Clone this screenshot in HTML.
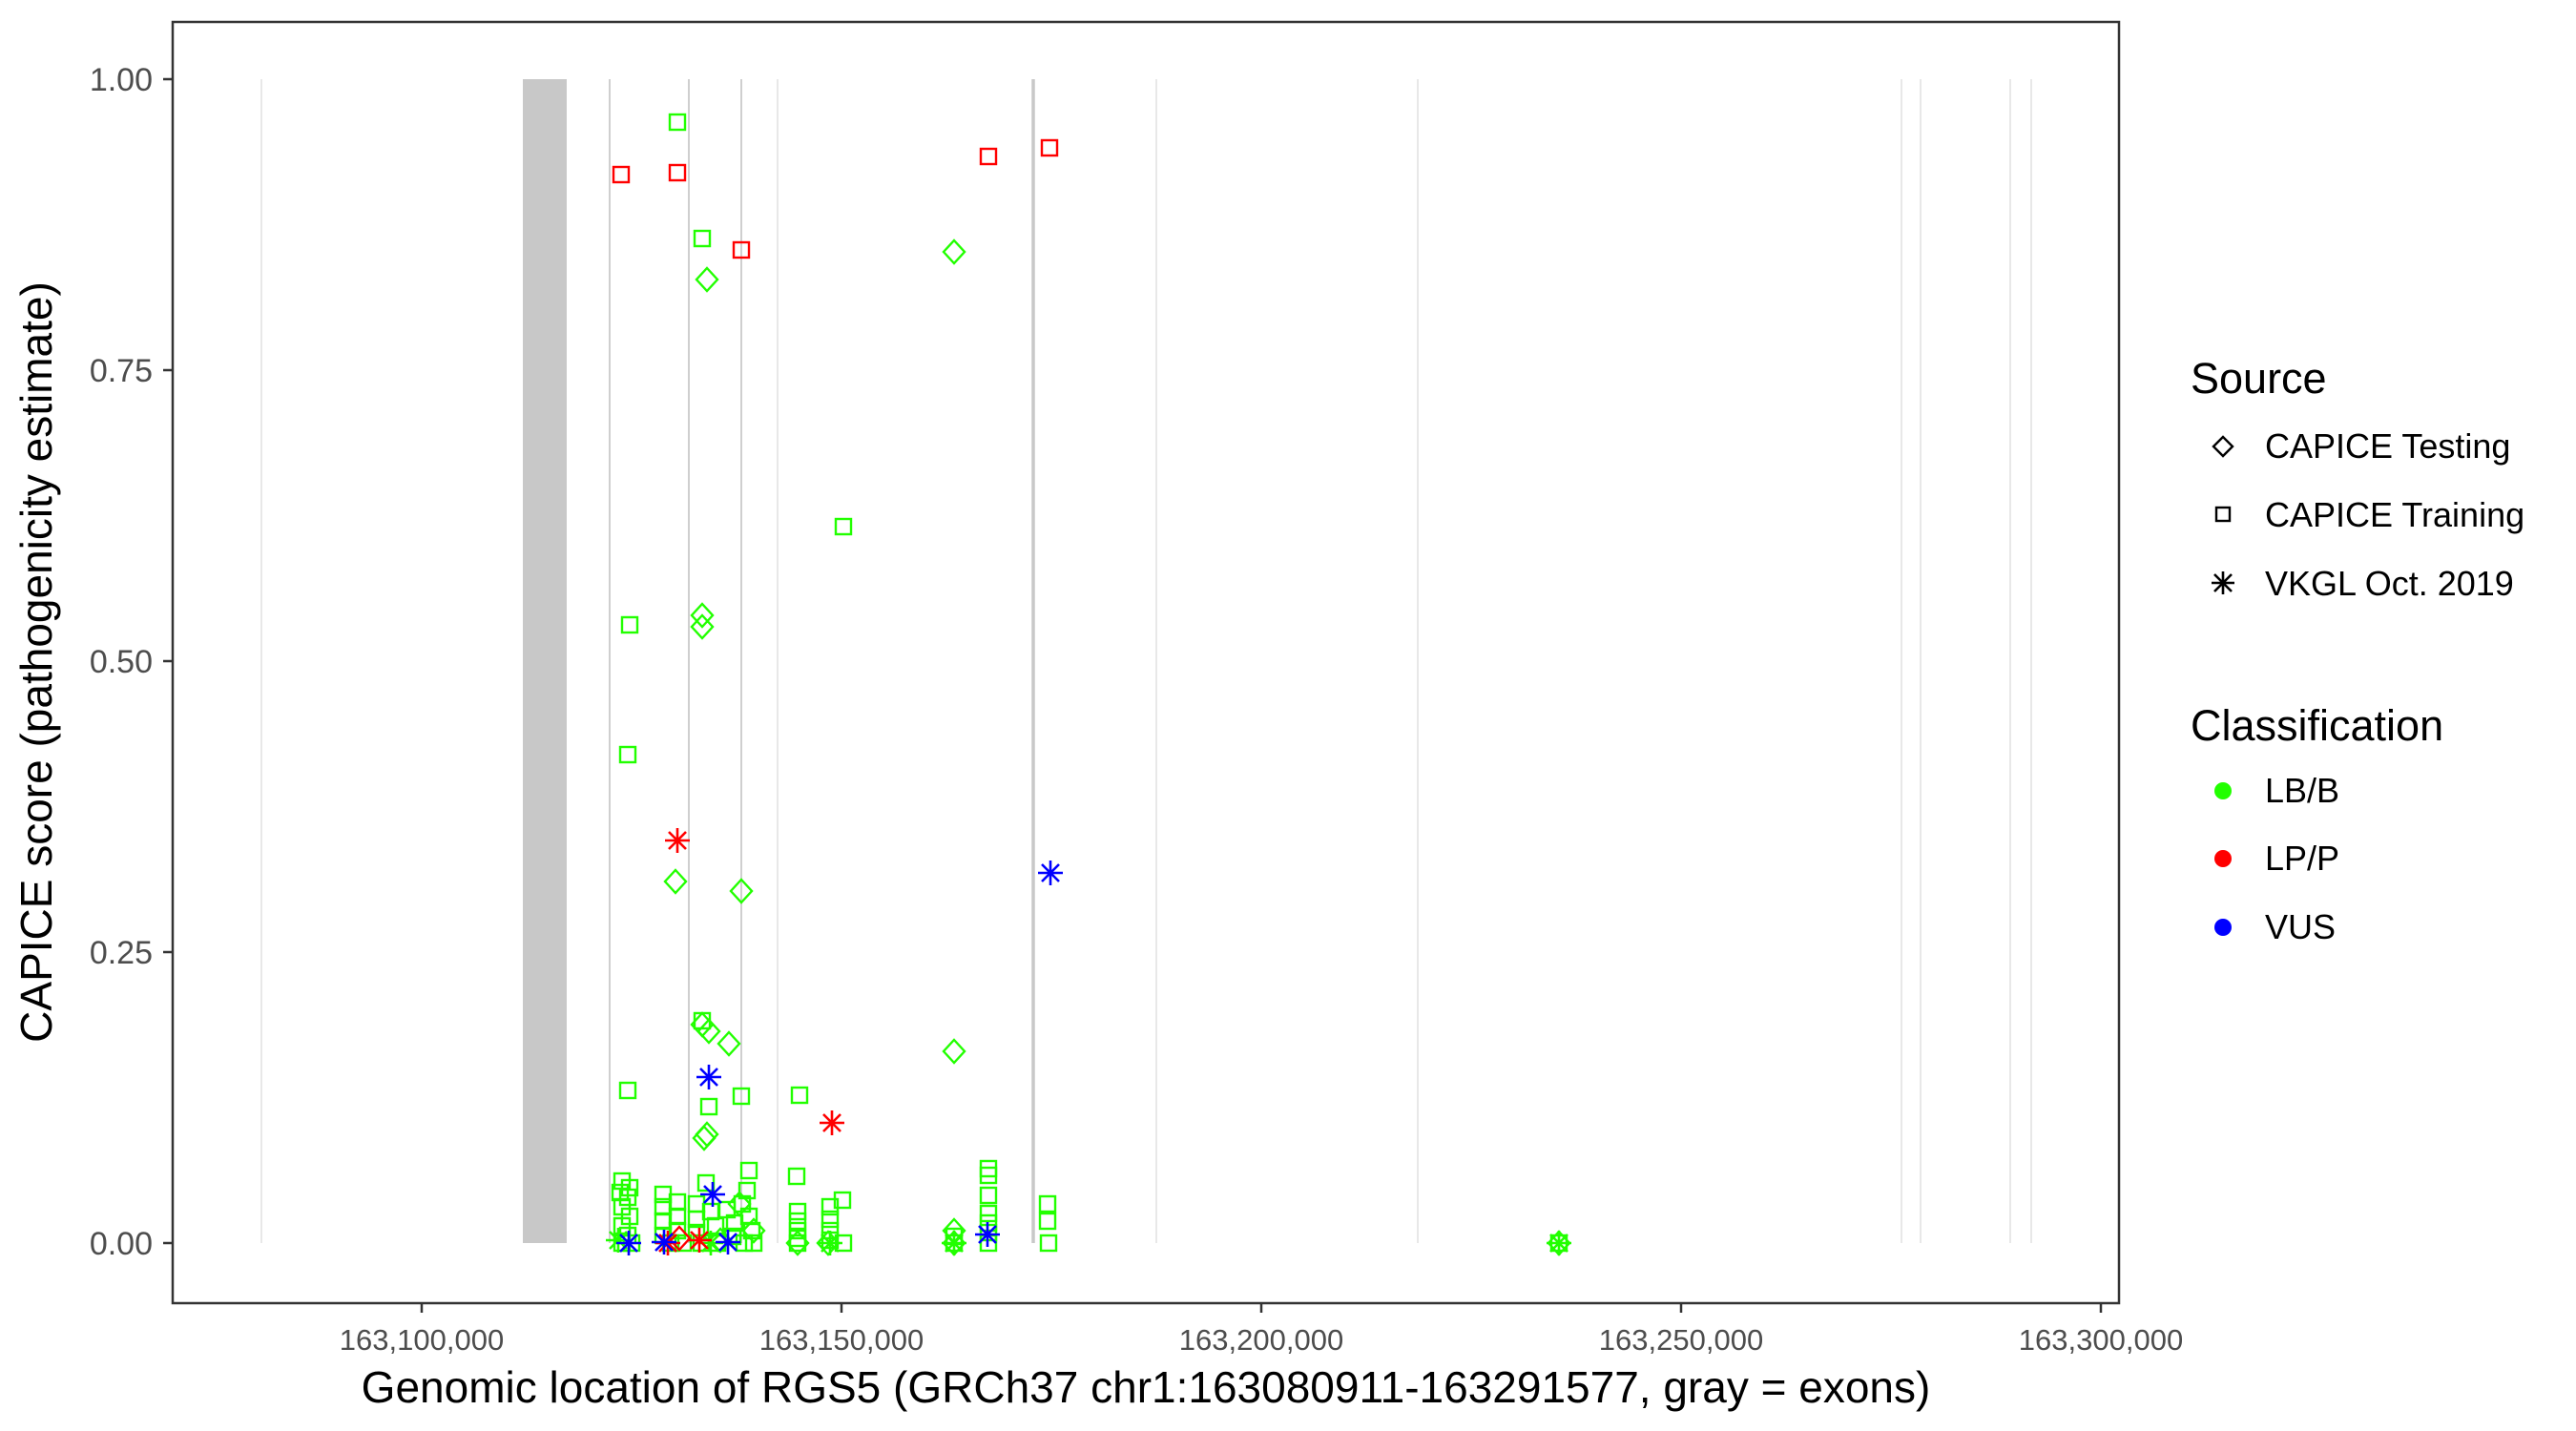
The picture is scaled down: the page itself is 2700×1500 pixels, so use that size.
<!DOCTYPE html>
<html><head><meta charset="utf-8"><style>html,body{margin:0;padding:0;background:#fff}svg{display:block}</style></head><body>
<svg width="2700" height="1500" viewBox="0 0 2700 1500" xmlns="http://www.w3.org/2000/svg" font-family="Liberation Sans, Arial, sans-serif">
<defs>
<rect id="s" x="-8" y="-8" width="16" height="16" fill="none" stroke-width="2.4"/>
<path id="d" d="M0,-12 L11,0 L0,12 L-11,0 Z" fill="none" stroke-width="2.4"/>
<path id="a" d="M0,-13 V13 M-13,0 H13 M-9,-9 L9,9 M-9,9 L9,-9" fill="none" stroke-width="2.6"/>
</defs>
<rect x="181" y="23" width="2040" height="1343" fill="#fff"/>
<g stroke="#e3e3e3" stroke-width="1.6">
<line x1="274" y1="83" x2="274" y2="1303"/>
<line x1="1486" y1="83" x2="1486" y2="1303"/>
<line x1="1212" y1="83" x2="1212" y2="1303"/>
<line x1="815" y1="83" x2="815" y2="1303"/>
<line x1="1993" y1="83" x2="1993" y2="1303"/>
<line x1="2013" y1="83" x2="2013" y2="1303"/>
<line x1="2107" y1="83" x2="2107" y2="1303"/>
<line x1="2129" y1="83" x2="2129" y2="1303"/>
</g>
<g stroke="#cfcfcf" stroke-width="2">
<line x1="639" y1="83" x2="639" y2="1303"/>
<line x1="722" y1="83" x2="722" y2="1303"/>
<line x1="777" y1="83" x2="777" y2="1303"/>
</g>
<line x1="1083" y1="83" x2="1083" y2="1303" stroke="#c8c8c8" stroke-width="3.5"/>
<rect x="548" y="83" width="46" height="1220" fill="#c8c8c8"/>

<g stroke="#22ff00" fill="none">
<use href="#s" x="710" y="128"/><use href="#s" x="736" y="250"/><use href="#s" x="884" y="552"/>
<use href="#s" x="660" y="655"/><use href="#s" x="658" y="791"/><use href="#s" x="658" y="1143"/>
<use href="#s" x="736" y="1070"/><use href="#s" x="743" y="1160"/><use href="#s" x="777" y="1149"/>
<use href="#s" x="838" y="1148"/><use href="#s" x="785" y="1227"/><use href="#s" x="835" y="1233"/>
<use href="#s" x="883" y="1258"/><use href="#s" x="1098" y="1262"/><use href="#s" x="1098" y="1280"/>
<use href="#d" x="741" y="293"/><use href="#d" x="1000" y="264"/><use href="#d" x="736" y="645"/>
<use href="#d" x="736" y="657"/><use href="#d" x="708" y="924"/><use href="#d" x="777" y="934"/>
<use href="#d" x="1000" y="1102"/><use href="#d" x="736" y="1074"/><use href="#d" x="743" y="1081"/>
<use href="#d" x="764" y="1094"/><use href="#d" x="741" y="1189"/><use href="#d" x="738" y="1193"/>
<use href="#s" x="652" y="1238"/><use href="#s" x="660" y="1245"/><use href="#s" x="658" y="1255"/><use href="#s" x="652" y="1265"/><use href="#s" x="660" y="1275"/><use href="#s" x="652" y="1285"/><use href="#s" x="658" y="1295"/><use href="#s" x="652" y="1303"/><use href="#s" x="662" y="1303"/><use href="#s" x="650" y="1250"/>
<use href="#s" x="695" y="1252"/><use href="#s" x="695" y="1265"/><use href="#s" x="695" y="1280"/><use href="#s" x="695" y="1295"/><use href="#s" x="710" y="1260"/><use href="#s" x="710" y="1275"/><use href="#s" x="710" y="1290"/><use href="#s" x="703" y="1303"/><use href="#s" x="716" y="1303"/>
<use href="#s" x="730" y="1262"/><use href="#s" x="730" y="1278"/><use href="#s" x="730" y="1292"/><use href="#s" x="740" y="1240"/><use href="#s" x="745" y="1270"/><use href="#s" x="750" y="1285"/><use href="#s" x="735" y="1303"/><use href="#s" x="752" y="1303"/>
<use href="#s" x="762" y="1268"/><use href="#s" x="770" y="1282"/><use href="#s" x="768" y="1296"/><use href="#s" x="778" y="1262"/><use href="#s" x="785" y="1275"/><use href="#s" x="788" y="1290"/><use href="#s" x="780" y="1303"/><use href="#s" x="790" y="1303"/><use href="#s" x="783" y="1248"/>
<use href="#d" x="775" y="1262"/><use href="#d" x="790" y="1290"/><use href="#d" x="755" y="1300"/>
<use href="#s" x="836" y="1270"/><use href="#s" x="836" y="1280"/><use href="#s" x="836" y="1290"/><use href="#s" x="836" y="1298"/><use href="#s" x="836" y="1303"/><use href="#d" x="836" y="1303"/>
<use href="#s" x="870" y="1265"/><use href="#s" x="870" y="1278"/><use href="#s" x="870" y="1290"/><use href="#s" x="870" y="1300"/><use href="#s" x="884" y="1303"/><use href="#d" x="868" y="1303"/><use href="#a" x="870" y="1303"/>
<use href="#d" x="1000" y="1290"/><use href="#s" x="1000" y="1296"/><use href="#s" x="1000" y="1303"/><use href="#a" x="1000" y="1303"/><use href="#d" x="1000" y="1303"/>
<use href="#s" x="1036" y="1225"/><use href="#s" x="1036" y="1232"/><use href="#s" x="1036" y="1253"/><use href="#s" x="1036" y="1272"/><use href="#s" x="1036" y="1282"/><use href="#s" x="1036" y="1292"/><use href="#s" x="1036" y="1303"/>
<use href="#s" x="1099" y="1303"/>
<use href="#s" x="1634" y="1303"/><use href="#d" x="1634" y="1303"/><use href="#a" x="1634" y="1303"/>
<use href="#a" x="648" y="1300"/><use href="#a" x="745" y="1303"/>
</g>
<g stroke="#ff0000" fill="none">
<use href="#s" x="651" y="183"/><use href="#s" x="710" y="181"/><use href="#s" x="777" y="262"/>
<use href="#s" x="1036" y="164"/><use href="#s" x="1100" y="155"/>
<use href="#a" x="710" y="881"/><use href="#a" x="872" y="1177"/>
<use href="#d" x="712" y="1298"/><use href="#a" x="700" y="1303"/><use href="#a" x="733" y="1300"/>
</g>
<g stroke="#0000ff" fill="none">
<use href="#a" x="1101" y="915"/><use href="#a" x="743" y="1129"/><use href="#a" x="747" y="1252"/>
<use href="#a" x="659" y="1303"/><use href="#a" x="696" y="1302"/><use href="#a" x="763" y="1302"/>
<use href="#a" x="1035" y="1294"/>
</g>

<rect x="181" y="23" width="2040" height="1343" fill="none" stroke="#333" stroke-width="2.5"/>
<g stroke="#333" stroke-width="2.5">
<line x1="171" y1="83" x2="181" y2="83"/><line x1="171" y1="388" x2="181" y2="388"/><line x1="171" y1="693" x2="181" y2="693"/><line x1="171" y1="998" x2="181" y2="998"/><line x1="171" y1="1303" x2="181" y2="1303"/>
<line x1="442" y1="1366" x2="442" y2="1376"/><line x1="882" y1="1366" x2="882" y2="1376"/><line x1="1322" y1="1366" x2="1322" y2="1376"/><line x1="1762" y1="1366" x2="1762" y2="1376"/><line x1="2202" y1="1366" x2="2202" y2="1376"/>
</g>
<g fill="#4d4d4d" font-size="34" text-anchor="end">
<text x="160" y="95">1.00</text><text x="160" y="400">0.75</text><text x="160" y="705">0.50</text><text x="160" y="1010">0.25</text><text x="160" y="1315">0.00</text>
</g>
<g fill="#4d4d4d" font-size="31" text-anchor="middle">
<text x="442" y="1415">163,100,000</text><text x="882" y="1415">163,150,000</text><text x="1322" y="1415">163,200,000</text><text x="1762" y="1415">163,250,000</text><text x="2202" y="1415">163,300,000</text>
</g>
<text x="1201" y="1470" font-size="46" text-anchor="middle" fill="#000">Genomic location of RGS5 (GRCh37 chr1:163080911-163291577, gray = exons)</text>
<text transform="translate(54,694) rotate(-90)" font-size="46" text-anchor="middle" fill="#000">CAPICE score (pathogenicity estimate)</text>

<text x="2296" y="412" font-size="45" fill="#000">Source</text>
<g stroke="#000" fill="none">
<path d="M2330,458 L2340,468 L2330,478 L2320,468 Z" stroke-width="2.4"/>
<rect x="2323" y="532" width="14" height="14" stroke-width="2.4"/>
<path d="M2330,599 V623 M2318,611 H2342 M2321,602 L2339,620 M2321,620 L2339,602" stroke-width="2.6"/>
</g>
<g font-size="36" fill="#000">
<text x="2374" y="480">CAPICE Testing</text><text x="2374" y="552">CAPICE Training</text><text x="2374" y="624">VKGL Oct. 2019</text>
</g>
<text x="2296" y="776" font-size="45" fill="#000">Classification</text>
<circle cx="2330" cy="829" r="9" fill="#22ff00"/><circle cx="2330" cy="900" r="9" fill="#ff0000"/><circle cx="2330" cy="972" r="9" fill="#0000ff"/>
<g font-size="36" fill="#000">
<text x="2374" y="841">LB/B</text><text x="2374" y="912">LP/P</text><text x="2374" y="984">VUS</text>
</g>
</svg>
</body></html>
